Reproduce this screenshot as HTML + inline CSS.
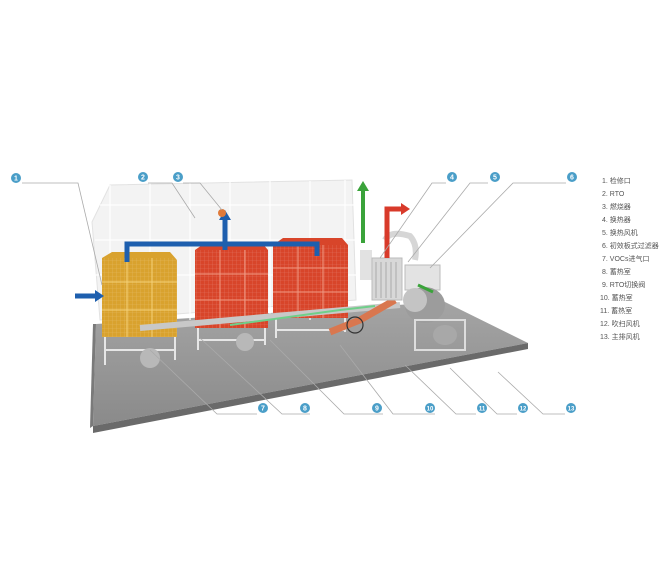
<!DOCTYPE html>
<html><head><meta charset="utf-8"><style>
body{margin:0;background:#fff;}
svg{display:block}
text{font-family:"Liberation Sans","Noto Sans CJK SC",sans-serif}
</style></head><body>
<svg width="670" height="586" viewBox="0 0 670 586" xmlns="http://www.w3.org/2000/svg">
<defs>
<pattern id="g" width="4" height="4" patternUnits="userSpaceOnUse"><rect width="4" height="4" fill="none"/><path d="M0 0H4M0 0V4" stroke="#fff" stroke-opacity=".25" stroke-width=".6"/></pattern>
<linearGradient id="fl" x1="0" y1="0" x2="0" y2="1"><stop offset="0" stop-color="#a4a4a4"/><stop offset="1" stop-color="#8a8a8a"/></linearGradient>
</defs>
<!-- floor -->
<polygon points="96,324 445,302 528,343 93,426" fill="url(#fl)"/>
<polygon points="93,426 528,343 528,349 93,433" fill="#6a6a6a"/>
<polygon points="96,324 93,426 90,428 93,324" fill="#7a7a7a"/>
<!-- enclosure -->
<polygon points="92,222 110,185 352,180 356,300 100,320" fill="#f3f3f3" stroke="#e2e2e2"/>
<g stroke="#fff" stroke-width="1.2" fill="none">
<path d="M100,205 H354 M95,240 H356 M95,275 H356 M110,185 V320 M150,183 V320 M190,182 V320 M230,182 V320 M270,181 V320 M310,181 V320 M345,180 V300"/>
</g>
<!-- yellow box -->
<polygon points="102,258 112,252 170,252 177,260 177,337 102,337" fill="#d9a22e"/>
<rect x="102" y="258" width="75" height="79" fill="url(#g)"/>
<path d="M102,282 H177 M102,310 H177 M127,258 V337 M152,258 V337" stroke="#f5d27a" stroke-width="1"/>
<!-- red boxes -->
<polygon points="195,250 205,243 262,243 268,250 268,328 195,328" fill="#d8452a"/>
<rect x="195" y="250" width="73" height="78" fill="url(#g)"/>
<path d="M195,274 H268 M195,300 H268 M220,250 V328 M245,250 V328" stroke="#f09a84" stroke-width="1"/>
<polygon points="273,245 283,238 342,238 348,245 348,318 273,318" fill="#d8452a"/>
<rect x="273" y="245" width="75" height="73" fill="url(#g)"/>
<path d="M273,268 H348 M273,292 H348 M298,245 V318 M323,245 V318" stroke="#f09a84" stroke-width="1"/>
<!-- supports -->
<g stroke="#e6e6e6" stroke-width="2" fill="none">
<path d="M105,337 V365 M175,337 V360 M105,350 H175 M198,328 V350 M265,328 V345 M198,340 H265 M276,318 V338 M345,318 V332 M276,330 H345"/>
</g>
<!-- ducts -->
<path d="M140,328 L400,305" stroke="#c8c8c8" stroke-width="6"/>
<path d="M230,325 L340,310 M340,310 L375,306" stroke="#6fcf8a" stroke-width="2" fill="none"/>
<circle cx="150" cy="358" r="10" fill="#b8b8b8"/>
<circle cx="245" cy="342" r="9" fill="#b8b8b8"/>
<path d="M330,332 L360,320 L395,300" stroke="#d9774f" stroke-width="7" fill="none"/>
<circle cx="355" cy="325" r="8" fill="none" stroke="#333" stroke-width="1.2"/>
<!-- heat exchanger and fan -->
<rect x="360" y="250" width="12" height="30" fill="#e2e2e2"/>
<rect x="372" y="258" width="30" height="42" fill="#d8d8d8" stroke="#bbb"/>
<path d="M376,262 V298 M381,262 V298 M386,262 V298 M391,262 V298 M396,262 V298" stroke="#aaa"/>
<path d="M385,240 Q390,230 410,236 Q418,245 415,260" stroke="#d6d6d6" stroke-width="6" fill="none"/>
<rect x="405" y="265" width="35" height="25" fill="#e3e3e3" stroke="#bbb"/>
<ellipse cx="425" cy="305" rx="20" ry="18" fill="#9c9c9c"/>
<ellipse cx="415" cy="300" rx="12" ry="12" fill="#c4c4c4"/>
<rect x="415" y="320" width="50" height="30" fill="none" stroke="#ddd" stroke-width="2"/>
<ellipse cx="445" cy="335" rx="12" ry="10" fill="#a8a8a8"/>
<!-- blue pipes -->
<path d="M127,262 V244 H317 V256" stroke="#1e5fae" stroke-width="5" fill="none"/>
<path d="M225,250 V218" stroke="#1e5fae" stroke-width="5"/>
<polygon points="219,220 225,210 231,220" fill="#1e5fae"/>
<path d="M75,296 H96" stroke="#1e5fae" stroke-width="5"/>
<polygon points="95,290 104,296 95,302" fill="#1e5fae"/>
<circle cx="222" cy="213" r="4" fill="#e07a3a"/>
<!-- green/red arrows -->
<path d="M363,243 V190" stroke="#3aa33a" stroke-width="4"/>
<polygon points="357,191 363,181 369,191" fill="#3aa33a"/>
<path d="M387,258 V209 H402" stroke="#d83a2a" stroke-width="5" fill="none"/>
<polygon points="401,203 410,209 401,215" fill="#d83a2a"/>
<path d="M418,285 L433,292" stroke="#3aa33a" stroke-width="3"/>
<!-- leader lines -->
<g stroke="#aaa" stroke-width="0.8" fill="none">
<path d="M22,183 H78 L102,285"/>
<path d="M148,183 H172 L195,218"/>
<path d="M183,183 H200 L222,210"/>
<path d="M446,183 H432 L380,258"/>
<path d="M488,183 H470 L408,262"/>
<path d="M566,183 H513 L430,268"/>
<path d="M257,414 H217 L150,350"/>
<path d="M310,414 H282 L200,338"/>
<path d="M383,414 H344 L270,340"/>
<path d="M435,414 H393 L340,345"/>
<path d="M476,414 H456 L405,365"/>
<path d="M517,414 H497 L450,368"/>
<path d="M565,414 H543 L498,372"/>
</g>
<!-- markers -->
<g font-size="7" font-weight="bold" fill="#fff" text-anchor="middle">
<circle cx="16" cy="178" r="5" fill="#4a9ec8"/><text x="16" y="180.5">1</text>
<circle cx="143" cy="177" r="5" fill="#4a9ec8"/><text x="143" y="179.5">2</text>
<circle cx="178" cy="177" r="5" fill="#4a9ec8"/><text x="178" y="179.5">3</text>
<circle cx="452" cy="177" r="5" fill="#4a9ec8"/><text x="452" y="179.5">4</text>
<circle cx="495" cy="177" r="5" fill="#4a9ec8"/><text x="495" y="179.5">5</text>
<circle cx="572" cy="177" r="5" fill="#4a9ec8"/><text x="572" y="179.5">6</text>
<circle cx="263" cy="408" r="5" fill="#4a9ec8"/><text x="263" y="410.5">7</text>
<circle cx="305" cy="408" r="5" fill="#4a9ec8"/><text x="305" y="410.5">8</text>
<circle cx="377" cy="408" r="5" fill="#4a9ec8"/><text x="377" y="410.5">9</text>
<circle cx="430" cy="408" r="5" fill="#4a9ec8"/><text x="430" y="410.5" font-size="6">10</text>
<circle cx="482" cy="408" r="5" fill="#4a9ec8"/><text x="482" y="410.5" font-size="6">11</text>
<circle cx="523" cy="408" r="5" fill="#4a9ec8"/><text x="523" y="410.5" font-size="6">12</text>
<circle cx="571" cy="408" r="5" fill="#4a9ec8"/><text x="571" y="410.5" font-size="6">13</text>
</g>
<!-- legend -->
<g font-size="7" fill="#555">
<text x="602" y="183">1.  检修口</text>
<text x="602" y="196">2.  RTO</text>
<text x="602" y="209">3.  燃烧器</text>
<text x="602" y="222">4.  换热器</text>
<text x="602" y="235">5.  换热风机</text>
<text x="602" y="248">6.  初效板式过滤器</text>
<text x="602" y="261">7.  VOCs进气口</text>
<text x="602" y="274">8.  蓄热室</text>
<text x="602" y="287">9.  RTO切换阀</text>
<text x="600" y="300">10. 蓄热室</text>
<text x="600" y="313">11. 蓄热室</text>
<text x="600" y="326">12. 吹扫风机</text>
<text x="600" y="339">13. 主排风机</text>
</g>
</svg>
</body></html>
